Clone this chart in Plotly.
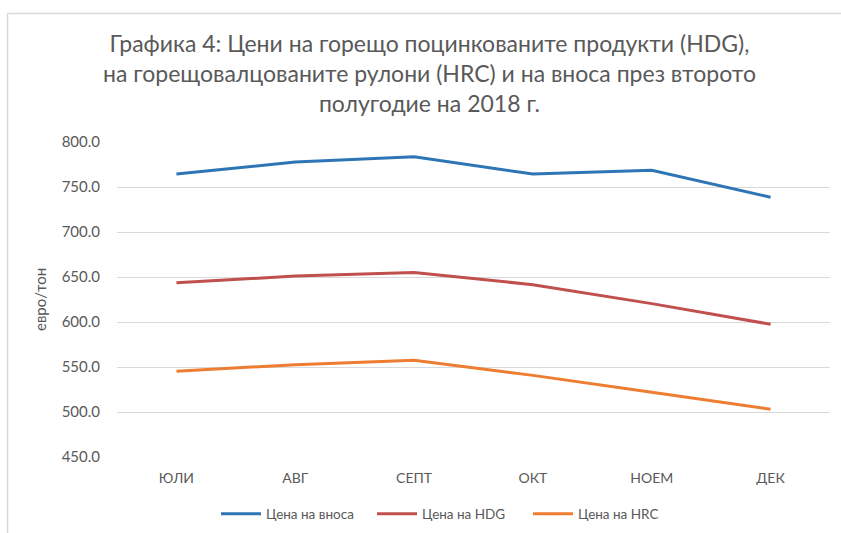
import plotly.graph_objects as go

months = ["ЮЛИ", "АВГ", "СЕПТ", "ОКТ", "НОЕМ", "ДЕК"]
import_price = [764.4, 777.8, 783.7, 764.4, 768.6, 738.6]
hdg_price = [643.7, 651.0, 654.9, 641.5, 620.4, 597.5]
hrc_price = [545.2, 552.6, 557.4, 540.7, 522.0, 503.0]
series_names = ["Цена на вноса", "Цена на HDG", "Цена на HRC"]
y_ticks = [450, 500, 550, 600, 650, 700, 750, 800]
title_text = ("Графика 4: Цени на горещо поцинкованите продукти (HDG),<br>"
              "на горещовалцованите рулони (HRC) и на вноса през второто<br>"
              "полугодие на 2018 г.")
y_title = "евро/тон"

colors = ["#2E75B6", "#C0504D", "#ED7D31"]
FONT = "Lato"
GREY = "#595959"

W, H = 841, 533
ML, MR, MT, MB = 117, 11, 142, 76

fig = go.Figure()
for name, vals, col in zip(series_names, [import_price, hdg_price, hrc_price], colors):
    fig.add_trace(go.Scatter(x=months, y=vals, name=name, mode="lines",
                             line=dict(color=col, width=3)))

pw = W - ML - MR
ph = H - MT - MB

def px_x(x):
    return (x - ML) / pw

def px_y(y):
    return 1 - (y - MT) / ph

fig.update_layout(
    width=W, height=H,
    margin=dict(l=ML, r=MR, t=MT, b=MB, autoexpand=False),
    paper_bgcolor="white", plot_bgcolor="white",
    font=dict(family=FONT, color=GREY, size=14),
    showlegend=True,
    legend=dict(orientation="h", xref="container", yref="container",
                x=450 / W, xanchor="center", y=1 - 514 / H, yanchor="middle",
                font=dict(size=13.5, color=GREY), tracegroupgap=0,
                itemwidth=40, entrywidth=101, entrywidthmode="pixels"),
    xaxis=dict(range=[-0.5, 5.5], showgrid=False, showline=False, zeroline=False, ticks="",
               automargin=False, ticklabelstandoff=11,
               tickfont=dict(size=14, color=GREY)),
    yaxis=dict(range=[450, 800], tickvals=y_ticks, ticktext=[f"{v:.1f}" for v in y_ticks],
               showgrid=True, gridcolor="#D9D9D9", gridwidth=1, zeroline=False, showline=False,
               ticks="", automargin=False, ticklabelstandoff=16,
               tickfont=dict(size=15, color=GREY)),
    annotations=[
        dict(text=title_text, xref="paper", yref="paper",
             x=px_x(429), y=px_y(73), xanchor="center", yanchor="middle",
             showarrow=False, align="center",
             font=dict(family=FONT, size=23, color=GREY)),
        dict(text=y_title, xref="paper", yref="paper", textangle=-90,
             x=px_x(40), y=px_y(300), xanchor="center", yanchor="middle",
             showarrow=False, font=dict(family=FONT, size=15, color=GREY)),
    ],
    shapes=[
        dict(type="line", xref="paper", yref="paper", x0=px_x(7.5), x1=px_x(7.5),
             y0=px_y(13.5), y1=px_y(533), line=dict(color="#D9D9D9", width=1.5)),
        dict(type="line", xref="paper", yref="paper", x0=px_x(7.5), x1=px_x(841),
             y0=px_y(13.5), y1=px_y(13.5), line=dict(color="#D9D9D9", width=1.5)),
    ],
)

fig.write_html("out.html", config={"displayModeBar": False},
               post_script="document.body.style.margin='0';")
